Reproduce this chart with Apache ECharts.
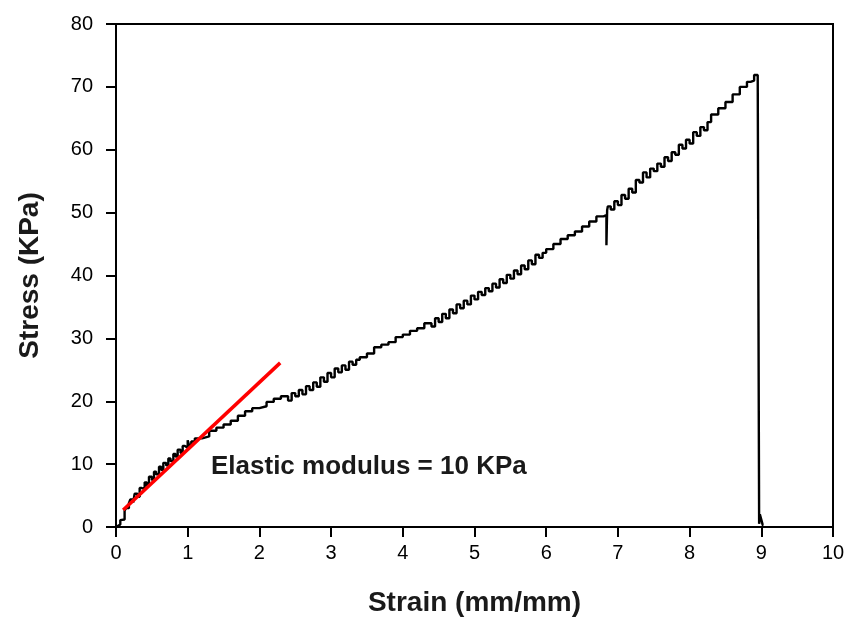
<!DOCTYPE html>
<html>
<head>
<meta charset="utf-8">
<script src="https://cdn.jsdelivr.net/npm/echarts@6/dist/echarts.min.js"></script>
<style>html,body{margin:0;padding:0;background:#fff}#c{width:849px;height:624px}</style>
</head>
<body>
<div id="c"></div>
<script>
const strain = [0.00,0.02,0.06,0.08,0.12,0.14,0.18,0.20,0.24,0.26,0.30,0.33,0.36,0.40,0.43,0.46,0.50,0.53,0.56,0.60,0.63,0.66,0.70,0.73,0.76,0.80,0.83,0.86,0.90,0.93,0.96,1.00,1.02,1.05,1.10,1.20,1.30,1.40,1.50,1.60,1.70,1.80,1.90,2.00,2.10,2.20,2.30,2.40,2.45,2.50,2.55,2.60,2.65,2.70,2.75,2.80,2.85,2.90,2.95,3.00,3.05,3.10,3.15,3.20,3.25,3.30,3.35,3.40,3.50,3.60,3.70,3.80,3.90,4.00,4.10,4.20,4.30,4.40,4.45,4.50,4.55,4.60,4.65,4.70,4.75,4.80,4.85,4.90,4.95,5.00,5.05,5.10,5.15,5.20,5.25,5.30,5.35,5.40,5.45,5.50,5.55,5.60,5.65,5.70,5.75,5.80,5.85,5.90,5.95,6.00,6.10,6.20,6.30,6.40,6.50,6.60,6.70,6.80,6.84,6.85,6.86,6.90,6.95,7.00,7.05,7.10,7.15,7.20,7.25,7.30,7.35,7.40,7.45,7.50,7.55,7.60,7.65,7.70,7.75,7.80,7.85,7.90,7.95,8.00,8.05,8.10,8.15,8.20,8.25,8.30,8.40,8.50,8.60,8.70,8.80,8.85,8.90,8.95,8.97,8.98,9.00,9.02,9.03];
const stress = [0.0,0.3,0.4,1.1,1.2,2.6,3.0,3.8,4.4,3.9,5.3,4.8,6.2,6.0,7.1,6.6,8.0,7.5,8.8,8.4,9.6,9.1,10.2,9.8,10.9,10.5,11.6,11.2,12.3,11.8,12.9,12.6,13.8,13.0,13.6,14.1,14.4,15.3,15.8,16.3,16.9,17.7,18.4,18.9,19.2,19.9,20.4,20.8,20.1,21.3,20.8,21.8,21.1,22.4,21.8,23.0,22.3,23.8,23.1,24.5,23.8,25.2,24.6,25.7,25.0,26.3,25.8,26.6,27.0,27.6,28.6,29.0,29.4,30.2,30.6,31.2,31.6,32.4,31.9,33.2,32.6,33.9,33.2,34.6,34.0,35.4,34.8,36.0,35.4,36.8,36.2,37.4,36.9,38.0,37.5,38.7,38.1,39.4,38.8,40.1,39.5,40.8,40.2,41.6,41.0,42.4,41.8,43.3,42.8,43.6,44.2,45.0,45.8,46.4,47.0,47.8,48.6,49.4,49.6,44.8,50.4,51.0,50.5,51.8,51.2,52.8,52.2,53.8,53.2,55.2,54.8,56.4,55.6,57.0,56.6,57.8,57.3,58.8,58.2,59.6,59.2,60.8,60.2,61.6,61.0,62.8,62.2,63.6,63.1,64.4,65.6,66.6,67.6,68.8,70.0,70.8,71.0,71.9,71.6,0.5,2.0,1.2,0.3];
const fitStrain = [0.1, 2.29];
const fitStress = [2.7, 26.1];
const xTicks = [0,1,2,3,4,5,6,7,8,9,10];
const yTicks = [0,10,20,30,40,50,60,70,80];
const annotation = 'Elastic modulus = 10 KPa';

const chart = echarts.init(document.getElementById('c'), null, {renderer: 'canvas'});
const font = 'Liberation Sans, Arial, sans-serif';
const axisCommon = {
  axisLine: {show: true, onZero: false, lineStyle: {color: '#000', width: 2}},
  axisTick: {show: true, inside: false, length: 10, lineStyle: {color: '#000', width: 2}},
  splitLine: {show: false},
  axisLabel: {color: '#000', fontSize: 20, fontFamily: font},
  nameTextStyle: {color: '#1a1a1a', fontSize: 28, fontWeight: 'bold', fontFamily: font}
};
chart.setOption({
  animation: false,
  backgroundColor: '#fff',
  grid: {left: 116, right: 16, top: 24, bottom: 97, show: true, borderColor: '#000', borderWidth: 2, backgroundColor: 'transparent'},
  xAxis: Object.assign({}, axisCommon, {
    type: 'value', min: xTicks[0], max: xTicks[xTicks.length-1], interval: 1,
    name: 'Strain (mm/mm)', nameLocation: 'middle', nameGap: 62,
    axisLabel: Object.assign({}, axisCommon.axisLabel, {margin: 16})
  }),
  yAxis: Object.assign({}, axisCommon, {
    type: 'value', min: yTicks[0], max: yTicks[yTicks.length-1], interval: 10,
    name: 'Stress (KPa)', nameLocation: 'middle', nameGap: 72, nameRotate: 90,
    axisLabel: Object.assign({}, axisCommon.axisLabel, {margin: 23})
  }),
  series: [
    {
      type: 'line', data: strain.map((x, i) => [x, stress[i]]),
      showSymbol: false, step: 'start',
      lineStyle: {color: '#000', width: 2.4}, z: 2
    },
    {
      type: 'line', data: fitStrain.map((x, i) => [x, fitStress[i]]),
      showSymbol: false,
      lineStyle: {color: '#ff0000', width: 3.5}, z: 3
    }
  ]
});
const p = chart.convertToPixel({gridIndex: 0}, [1.325, 9.2]);
chart.setOption({
  graphic: [{
    type: 'text', left: p[0], top: p[1] - 15,
    style: {text: annotation, fill: '#1a1a1a', fontSize: 26, fontWeight: 'bold', fontFamily: font}
  }]
});
</script>
</body>
</html>
